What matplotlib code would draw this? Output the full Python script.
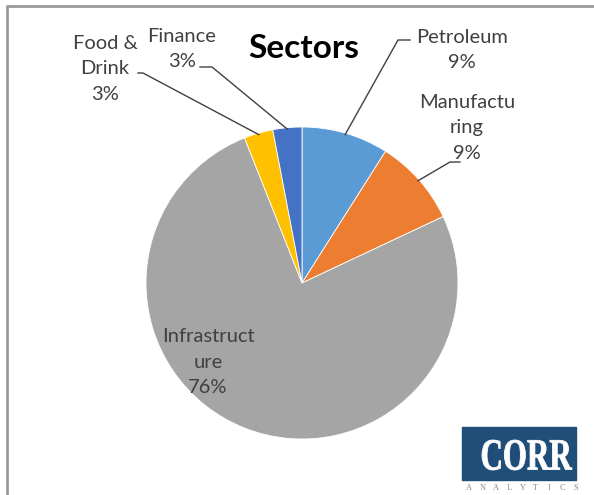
import numpy as np
import matplotlib.pyplot as plt
from matplotlib.patches import Rectangle, PathPatch
from matplotlib.textpath import TextPath
from matplotlib.font_manager import FontProperties
from matplotlib.transforms import Affine2D

# sector shares, clockwise from 12 o'clock
sectors = ["Petroleum", "Manufacturing", "Infrastructure", "Food & Drink", "Finance"]
shares = [9, 9, 76, 3, 3]
label_text = ["Petroleum", "Manufactu\nring", "Infrastruct\nure", "Food &\nDrink", "Finance"]
colors = ["#5B9BD5", "#ED7D31", "#A5A5A5", "#FFC000", "#4472C4"]

W, H = 594, 495
plt.rcParams['font.family'] = ['Lato', 'DejaVu Sans']
txt_color = "#404040"

fig = plt.figure(figsize=(W / 100, H / 100), dpi=100)
ax = fig.add_axes([0, 0, 1, 1])

def py(y):
    # pixel row (from top) -> axes y
    return H - y

cx, cy, r = 302, py(283), 156
wedges, _ = ax.pie(shares, colors=colors, startangle=90, counterclock=False,
                   center=(cx, cy), radius=r, frame=True,
                   wedgeprops=dict(edgecolor='white', linewidth=0.6))
ax.set_xlim(0, W)
ax.set_ylim(0, H)
ax.set_aspect('equal')
ax.axis('off')

# chart frame (top and left edges)
ax.plot([7, 7, W], [0, py(6), py(6)], color='#9a9a9a', lw=2, clip_on=False)

ax.text(304, py(48), "Sectors", ha='center', va='center', fontsize=24,
        fontweight='bold', color='black')

# label center and leader elbow points, in pixels
label_pos = {
    "Petroleum": (462, 50, (410, 40), (398, 40)),
    "Manufacturing": (467, 128, (460, 162), (450, 162)),
    "Infrastructure": (208, 362, None, None),
    "Food & Drink": (105, 69, (138, 73), (143, 73)),
    "Finance": (182, 49, (200, 67), (212, 67)),
}

total = sum(shares)
cum = 0
for name, txt, val in zip(sectors, label_text, shares):
    mid = 90 - (cum + val / 2) / total * 360
    cum += val
    lx, ly, p1, p2 = label_pos[name]
    ax.text(lx, py(ly), f"{txt}\n{val}%", ha='center', va='center',
            fontsize=14.5, color=txt_color, linespacing=1.6)
    if p1 is not None:
        ex = cx + 0.99 * r * np.cos(np.radians(mid))
        ey = cy + 0.99 * r * np.sin(np.radians(mid))
        ax.plot([p1[0], p2[0], ex], [py(p1[1]), py(p2[1]), ey],
                color='#404040', lw=1)

# logo box
ax.add_patch(Rectangle((462, py(480)), 114, 53, color='#1F4E79'))
tp = TextPath((0, 0), "CORR", size=40,
              prop=FontProperties(family='Liberation Serif', weight='bold'))
bb = tp.get_extents()
sx = 90 / bb.width
sy = 30 / bb.height
tr = Affine2D().translate(-bb.x0, -bb.y0).scale(sx, sy).translate(482, py(470))
ax.add_patch(PathPatch(tr.transform_path(tp), color='white', lw=0.6))
for ch, x in zip("ANALYTICS", np.linspace(469, 576, 9)):
    ax.text(x, py(488), ch, ha='center', va='center', fontsize=6,
            family='Liberation Serif', color='#8a8a8a')

fig.savefig("out.png", dpi=100)
